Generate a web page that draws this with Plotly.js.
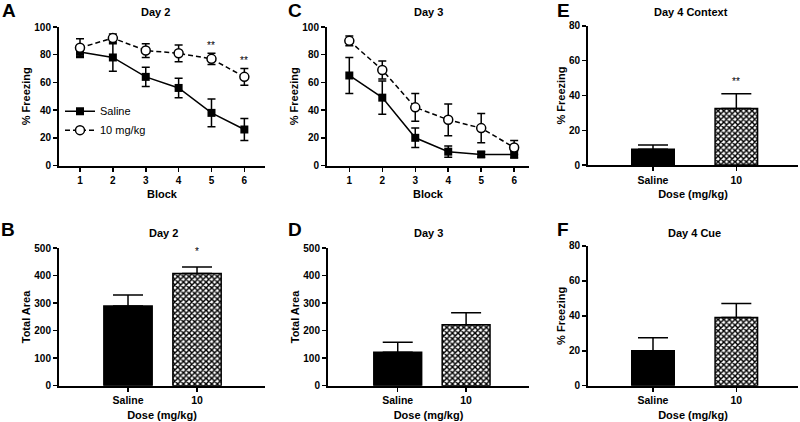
<!DOCTYPE html>
<html>
<head>
<meta charset="utf-8">
<script src="https://cdn.plot.ly/plotly-3.0.1.min.js"></script>
<style>html,body{margin:0;padding:0;background:#fff;}#chart{width:800px;height:422px;}</style>
</head>
<body>
<div id="chart"></div>
<script>
// ---------- data ----------
const blocks = [1, 2, 3, 4, 5, 6];
const day2Saline = [82, 78, 64, 56, 38, 26];
const day2SalineErr = [4, 10, 7, 7, 10, 8];
const day2Drug = [85, 92, 83, 81, 77, 64];
const day2DrugErr = [6.5, 3, 5, 6, 4, 6];
const day3Saline = [65, 49, 20, 10, 8, 8];
const day3SalineErr = [13, 12, 7, 4, 2, 2.5];
const day3Drug = [90, 69, 42, 33, 27, 13];
const day3DrugErr = [3.5, 6.5, 10, 11.5, 10.5, 5];
const doses = ['Saline', '10'];
const day2Area = [290, 408];
const day2AreaErr = [40, 24];
const day3Area = [122, 222];
const day3AreaErr = [36, 43];
const day4Context = [9, 32.5];
const day4ContextErr = [2.5, 8.5];
const day4Cue = [20, 39];
const day4CueErr = [7.5, 8];
const seriesNames = ['Saline', '10 mg/kg'];

// ---------- styling ----------
const FAM = 'Liberation Sans, Arial, Helvetica, sans-serif';
const BLACK = '#000';

function lineTrace(y, err, name, drug, xa, ya, showlegend) {
  return {
    type: 'scatter', mode: 'lines+markers', x: blocks, y: y, name: name,
    xaxis: xa, yaxis: ya, showlegend: showlegend, cliponaxis: false,
    line: {color: BLACK, width: 1.5, dash: drug ? '5px,3px' : 'solid'},
    marker: drug ? {symbol: 'circle', size: 9, color: '#fff', line: {color: BLACK, width: 1.5}}
                 : {symbol: 'square', size: 8, color: BLACK, line: {color: BLACK, width: 0}},
    error_y: {type: 'data', array: err, visible: true, color: BLACK, thickness: 1.5, width: 4}
  };
}

// one bar trace per dose group (index 0 = saline solid black, index 1 = drug checkered)
function barTraces(y, err, xa, ya, width) {
  return [0, 1].map(function (i) {
    const drug = i === 1;
    return {
      type: 'bar', x: [doses[i]], y: [y[i]], xaxis: xa, yaxis: ya, showlegend: false, width: width,
      cliponaxis: false,
      marker: drug
        ? {color: '#fff', line: {color: BLACK, width: 1.5},
           pattern: {shape: 'x', size: 4, solidity: 0.6, fgcolor: BLACK, bgcolor: '#fff'}}
        : {color: BLACK, line: {color: BLACK, width: 1.5}},
      error_y: {type: 'data', symmetric: false, array: [err[i]], arrayminus: [0], visible: true,
                color: BLACK, thickness: 1.5, width: 15}
    };
  });
}

const tickFont = {family: FAM, size: 10, color: BLACK, weight: 700};
const titleFont = {family: FAM, size: 11, color: BLACK, weight: 700};

function yAxis(domain, range, dtick, title, anchor) {
  return {
    domain: domain, range: range, dtick: dtick, tick0: 0, anchor: anchor,
    showline: true, linecolor: BLACK, linewidth: 2, ticks: 'outside', ticklen: 4,
    tickwidth: 1.5, tickcolor: BLACK, showgrid: false, zeroline: false,
    tickfont: tickFont, title: {text: title, font: titleFont, standoff: 1}, fixedrange: true
  };
}
function xAxisNum(domain, range, title, anchor) {
  return {
    domain: domain, range: range, tickvals: blocks, anchor: anchor,
    showline: true, linecolor: BLACK, linewidth: 2, ticks: 'outside', ticklen: 4,
    tickwidth: 1.5, tickcolor: BLACK, showgrid: false, zeroline: false,
    tickfont: tickFont, title: {text: title, font: titleFont, standoff: 6}, fixedrange: true
  };
}
function xAxisCat(domain, range, title, anchor) {
  return {
    domain: domain, range: range, type: 'category', categoryorder: 'array', categoryarray: doses,
    anchor: anchor,
    showline: true, linecolor: BLACK, linewidth: 2, ticks: 'outside', ticklen: 4,
    tickwidth: 1.5, tickcolor: BLACK, showgrid: false, zeroline: false,
    tickfont: {family: FAM, size: 10.5, color: BLACK, weight: 700},
    title: {text: title, font: titleFont, standoff: 6}, fixedrange: true
  };
}

const data = [
  lineTrace(day2Saline, day2SalineErr, seriesNames[0], false, 'x', 'y', true),
  lineTrace(day2Drug, day2DrugErr, seriesNames[1], true, 'x', 'y', true),
  lineTrace(day3Saline, day3SalineErr, seriesNames[0], false, 'x2', 'y2', false),
  lineTrace(day3Drug, day3DrugErr, seriesNames[1], true, 'x2', 'y2', false)
].concat(
  barTraces(day4Context, day4ContextErr, 'x3', 'y3', 0.51),
  barTraces(day2Area, day2AreaErr, 'x4', 'y4', 0.7),
  barTraces(day3Area, day3AreaErr, 'x5', 'y5', 0.7),
  barTraces(day4Cue, day4CueErr, 'x6', 'y6', 0.51)
);

const topDom = [0.6078, 0.936];
const botDom = [0.0860, 0.4118];

function label(text, x, y, size) {
  return {text: text, xref: 'paper', yref: 'paper', x: x, y: y, xanchor: 'center', yanchor: 'middle',
          showarrow: false, font: {family: FAM, size: size, color: BLACK, weight: 700}};
}
function star(text, xref, yref, x, y) {
  return {text: text, xref: xref, yref: yref, x: x, y: y, xanchor: 'center', yanchor: 'middle',
          showarrow: false, font: {family: FAM, size: 10, color: BLACK}};
}

const layout = {
  width: 800, height: 422, margin: {l: 0, r: 0, t: 0, b: 0},
  paper_bgcolor: '#fff', plot_bgcolor: '#fff',
  font: {family: FAM, color: BLACK},
  barmode: 'overlay',
  xaxis: xAxisNum([0.07375, 0.33125], [0.361, 6.628], 'Block', 'y'),
  yaxis: yAxis(topDom, [0, 100], 20, '% Freezing', 'x'),
  xaxis2: xAxisNum([0.40875, 0.66125], [0.323, 6.45], 'Block', 'y2'),
  yaxis2: yAxis(topDom, [0, 100], 20, '% Freezing', 'x2'),
  xaxis3: xAxisCat([0.735, 0.9975], [-0.78, 1.74], 'Dose (mg/kg)', 'y3'),
  yaxis3: yAxis([0.609, 0.9384], [0, 80], 20, '% Freezing', 'x3'),
  xaxis4: xAxisCat([0.07375, 0.33125], [-1.0, 1.985], 'Dose (mg/kg)', 'y4'),
  yaxis4: yAxis(botDom, [0, 500], 100, 'Total Area', 'x4'),
  xaxis5: xAxisCat([0.41, 0.66125], [-1.02, 1.92], 'Dose (mg/kg)', 'y5'),
  yaxis5: yAxis(botDom, [0, 500], 100, 'Total Area', 'x5'),
  xaxis6: xAxisCat([0.735, 0.9975], [-0.78, 1.74], 'Dose (mg/kg)', 'y6'),
  yaxis6: yAxis([0.0860, 0.4171], [0, 80], 20, '% Freezing', 'x6'),
  showlegend: true,
  legend: {x: 0.075, y: 0.771, xanchor: 'left', yanchor: 'top', bgcolor: 'rgba(0,0,0,0)',
           font: {family: FAM, size: 11, color: BLACK}, tracegroupgap: 0},
  annotations: [
    label('A', 8.5 / 800, 1 - 10 / 422, 19),
    label('C', 295 / 800, 1 - 10 / 422, 19),
    label('E', 563.5 / 800, 1 - 10 / 422, 19),
    label('B', 8 / 800, 1 - 229.5 / 422, 19),
    label('D', 295 / 800, 1 - 229.5 / 422, 19),
    label('F', 563 / 800, 1 - 229.5 / 422, 19),
    label('Day 2', 155 / 800, 1 - 12 / 422, 11),
    label('Day 3', 428 / 800, 1 - 12 / 422, 11),
    label('Day 4 Context', 691 / 800, 1 - 12 / 422, 11),
    label('Day 2', 163 / 800, 1 - 233 / 422, 11),
    label('Day 3', 428 / 800, 1 - 233 / 422, 11),
    label('Day 4 Cue', 694 / 800, 1 - 233 / 422, 11),
    star('**', 'x', 'y', 5, 87),
    star('**', 'x', 'y', 6, 76),
    star('**', 'x3', 'y3', 1, 48),
    star('*', 'x4', 'y4', 1, 488)
  ]
};

Plotly.newPlot('chart', data, layout, {staticPlot: true, displayModeBar: false});
</script>
</body>
</html>
